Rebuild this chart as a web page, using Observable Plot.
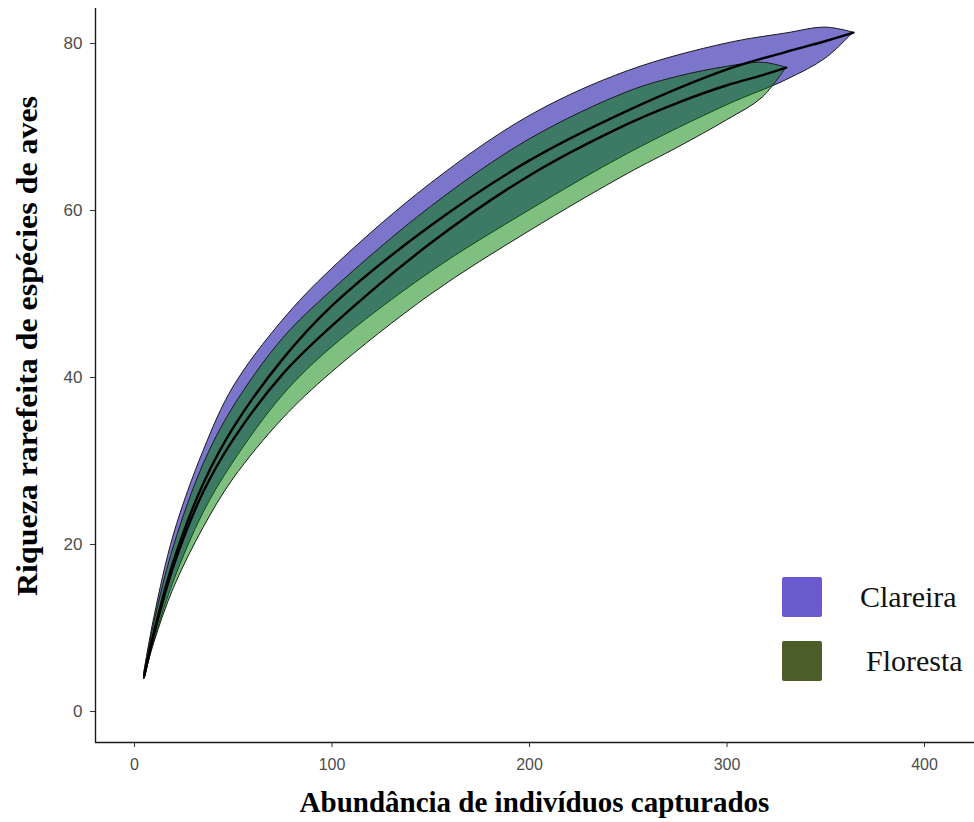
<!DOCTYPE html>
<html>
<head>
<meta charset="utf-8">
<script src="https://cdn.jsdelivr.net/npm/d3@7"></script>
<script src="https://cdn.jsdelivr.net/npm/@observablehq/plot@0.6"></script>
<style>
  body { margin: 0; background: #fff; }
  #wrap { position: relative; width: 974px; height: 822px; overflow: hidden; }
  #wrap svg g[aria-label="x-axis tick label"] { fill: #4d4d4d; font-size: 16px; font-family: "Liberation Sans", Arial, sans-serif; }
  #wrap svg g[aria-label="y-axis tick label"] { fill: #4d4d4d; font-size: 17px; font-family: "Liberation Sans", Arial, sans-serif; }
  .title { font-family: "Liberation Serif", "Times New Roman", serif; font-weight: bold; font-size: 29px; fill: #000; }
  .swatch { position: absolute; width: 40px; height: 40px; border-radius: 2px; }
  .ltext { position: absolute; font-family: "Liberation Serif", "Times New Roman", serif; font-size: 30px; color: #111; line-height: 1; white-space: nowrap; }
</style>
</head>
<body>
<div id="wrap"></div>
<script>
// ---- data ----
const groups = ["Clareira", "Floresta"];
const ribbonColors = ["#7b75cc", "#008000"];
const legendColors = ["#6a5acd", "#4b5e2a"];

const clareiraN     = [5, 10, 20, 35, 50, 75, 100, 150, 200, 250, 300, 330, 350, 364];
const clareiraLower = [3.9, 8.4, 15.6, 23.8, 29.8, 37.8, 43.6, 52.6, 60.0, 66.8, 72.6, 75.6, 78.2, 81.3];
const clareiraMean  = [4.3, 9.7, 18.2, 27.4, 34.0, 42.2, 48.6, 58.2, 66.0, 72.0, 76.9, 79.0, 80.3, 81.3];
const clareiraUpper = [4.7, 11.2, 21.2, 31.2, 38.8, 46.8, 53.0, 63.2, 71.3, 76.7, 80.0, 81.2, 81.9, 81.3];

const florestaN     = [5, 10, 20, 35, 50, 75, 100, 150, 200, 250, 275, 300, 318, 330];
const florestaLower = [3.9, 8.2, 14.8, 22.0, 27.8, 35.0, 40.6, 49.9, 57.5, 64.4, 67.5, 70.8, 73.5, 77.1];
const florestaMean  = [4.3, 9.4, 17.6, 26.4, 32.6, 40.4, 46.2, 56.1, 64.2, 70.4, 72.9, 75.0, 76.2, 77.1];
const florestaUpper = [4.7, 10.6, 19.8, 29.6, 36.4, 44.6, 50.4, 60.4, 68.5, 74.2, 76.0, 77.2, 77.7, 77.1];

const xTicks = [0, 100, 200, 300, 400];
const yTicks = [0, 20, 40, 60, 80];
const xDomain = [-19.75, 425.3];
const yDomain = [-3.71, 84.19];
const xTitle = "Abundância de indivíduos capturados";
const yTitle = "Riqueza rarefeita de espécies de aves";

// ---- build tables ----
const clar = clareiraN.map((n, i) => ({group: groups[0], n, lower: clareiraLower[i], mean: clareiraMean[i], upper: clareiraUpper[i]}));
const flor = florestaN.map((n, i) => ({group: groups[1], n, lower: florestaLower[i], mean: florestaMean[i], upper: florestaUpper[i]}));

const chart = Plot.plot({
  width: 974,
  height: 822,
  marginLeft: 95,
  marginRight: 0,
  marginTop: 8,
  marginBottom: 80,
  style: {background: "white", overflow: "visible"},
  x: {domain: xDomain},
  y: {domain: yDomain},
  marks: [
    Plot.areaY(clar, {x: "n", y1: "lower", y2: "upper", fill: ribbonColors[0], stroke: "#1a1a1a", strokeWidth: 1, curve: "catmull-rom"}),
    Plot.areaY(flor, {x: "n", y1: "lower", y2: "upper", fill: ribbonColors[1], fillOpacity: 0.5, stroke: "#1a1a1a", strokeWidth: 1, curve: "catmull-rom"}),
    Plot.lineY(clar, {x: "n", y: "mean", stroke: "black", strokeWidth: 2.4, curve: "catmull-rom"}),
    Plot.lineY(flor, {x: "n", y: "mean", stroke: "black", strokeWidth: 2.4, curve: "catmull-rom"}),
    Plot.ruleX([xDomain[0]], {stroke: "#1a1a1a", strokeWidth: 1.4}),
    Plot.ruleY([yDomain[0]], {stroke: "#1a1a1a", strokeWidth: 1.4}),
    Plot.axisX(xTicks, {tickSize: 5, tickPadding: 11, label: null, stroke: "#333"}),
    Plot.axisY(yTicks, {tickSize: 5, tickPadding: 8, label: null, stroke: "#333"})
  ]
});

const wrap = document.getElementById("wrap");
wrap.appendChild(chart);

const svg = d3.select(chart);
svg.append("text").attr("class", "title")
  .attr("x", 534.5).attr("y", 812).attr("text-anchor", "middle")
  .text(xTitle);
svg.append("text").attr("class", "title")
  .attr("transform", "translate(37,346) rotate(-90)").attr("text-anchor", "middle")
  .attr("textLength", 500).attr("lengthAdjust", "spacingAndGlyphs")
  .style("font-size", "30px")
  .text(yTitle);

// ---- legend (HTML overlay) ----
const legendPos = [{top: 577, textLeft: 860}, {top: 641, textLeft: 866}];
groups.forEach((g, i) => {
  const sw = document.createElement("div");
  sw.className = "swatch";
  sw.style.left = "782px";
  sw.style.top = legendPos[i].top + "px";
  sw.style.background = legendColors[i];
  wrap.appendChild(sw);
  const t = document.createElement("div");
  t.className = "ltext";
  t.style.left = legendPos[i].textLeft + "px";
  t.style.top = (legendPos[i].top + 5) + "px";
  t.textContent = g;
  wrap.appendChild(t);
});
</script>
</body>
</html>
